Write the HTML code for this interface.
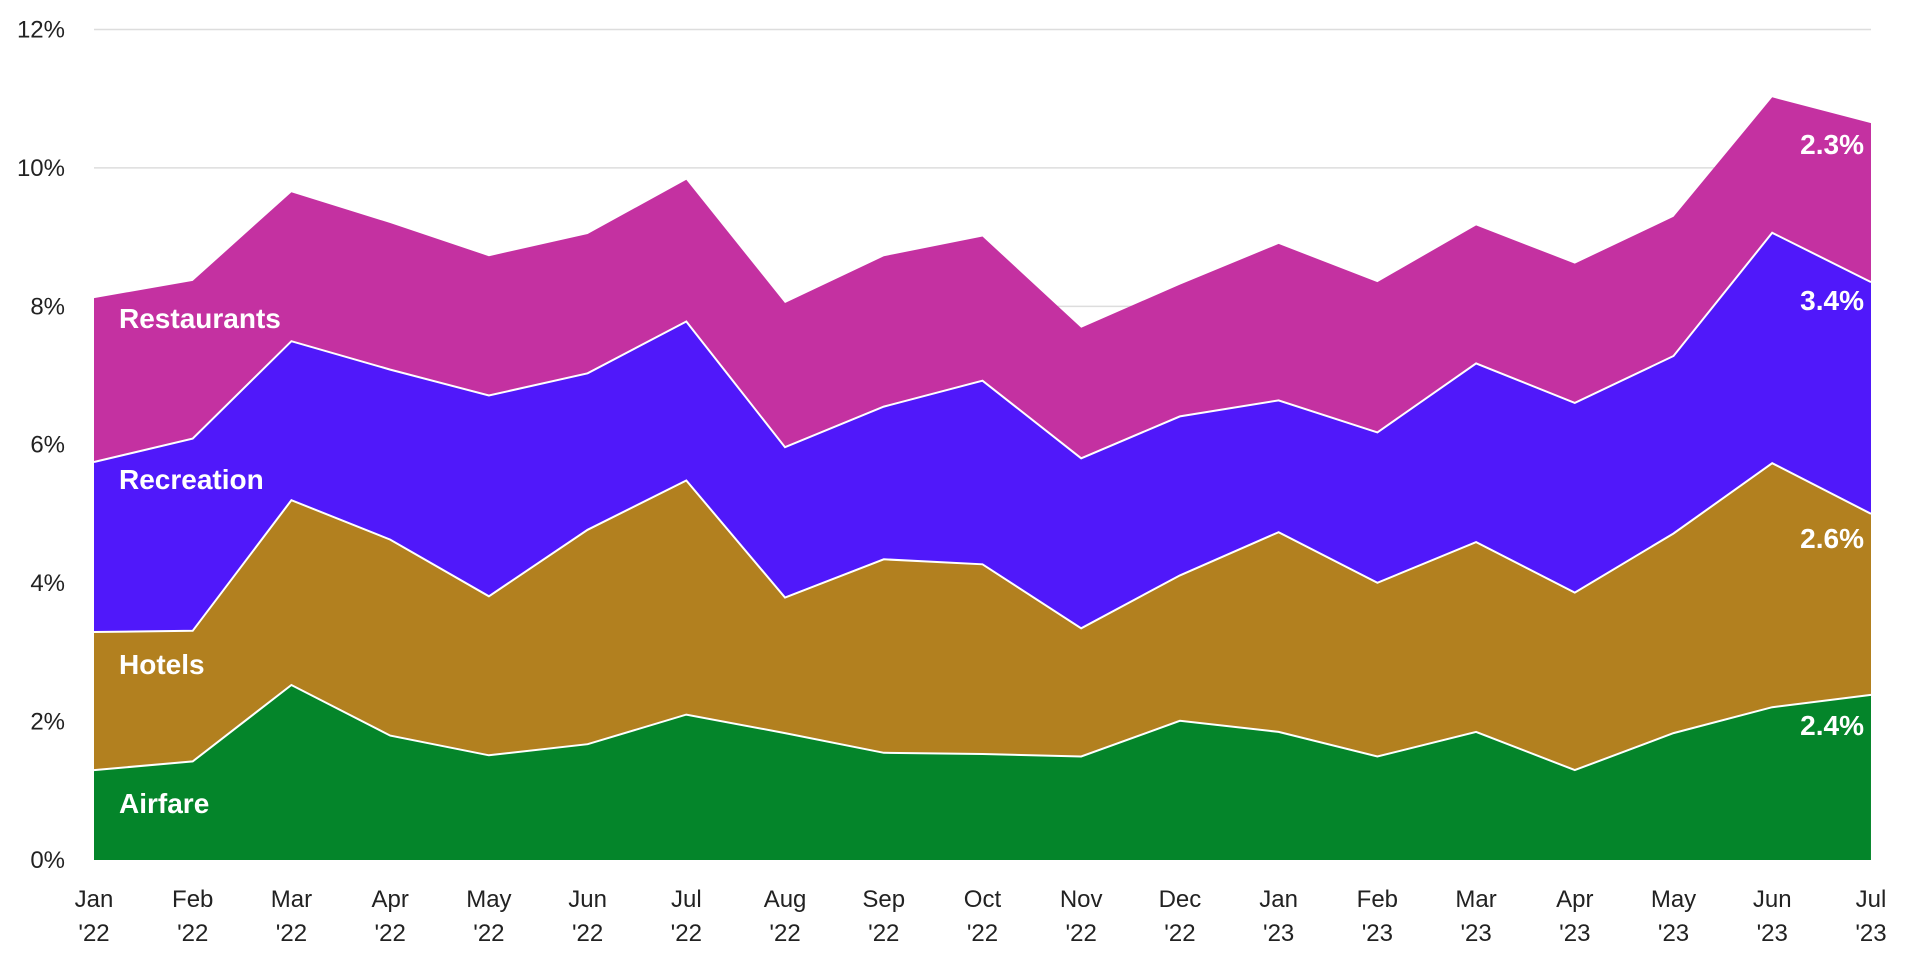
<!DOCTYPE html>
<html><head><meta charset="utf-8"><style>
body{margin:0;background:#fff}
svg text{font-family:"Liberation Sans",sans-serif}
</style></head><body>
<svg id="c" width="1920" height="960" xmlns="http://www.w3.org/2000/svg"></svg>
<script>
const s=document.getElementById('c');
const X=i=>94+i*98.72, Y=v=>29.5+(v-24)*1.2322, P=p=>860-p*69.21;
const air=[625,618,556,597,613,604,580,595,611,612,614,585,594,614,594,625,595,574,564];
const hot=[513,512,406,438,484,430,390,485,454,458,510,467,432,473,440,481,433,376,417];
const rec=[375,356,277,300,321,303,261,363,330,309,372,338,325,351,295,327,289,189,229];
const res=[242,228,156,181,208,190,146,246,208,192,266,231,198,229,183,214,176,79,100];
let h='';
for(let k=0;k<=12;k+=2){const y=P(k);if(k>0)h+=`<line x1="94" x2="1871" y1="${y}" y2="${y}" stroke="#dddddd" stroke-width="1.5"/>`;
h+=`<text x="65" y="${y+8}" text-anchor="end" font-size="24" fill="#222">${k}%</text>`;}
const pts=a=>a.map((v,i)=>`${X(i).toFixed(1)},${Y(v).toFixed(1)}`);
const layers=[[res,rec,'#c431a1'],[rec,hot,'#5018fa'],[hot,air,'#b2801f'],[air,null,'#04852a']];
for(const [t,b,c] of layers){
 let top=pts(t), bot=b?pts(b).reverse():[`${X(18)},860`,`${X(0)},860`];
 h+=`<polygon points="${top.join(' ')} ${bot.join(' ')}" fill="${c}"/>`;}
for(const a of [air,hot,rec])h+=`<polyline points="${pts(a).join(' ')}" fill="none" stroke="#fff" stroke-width="2"/>`;
const L=[['Restaurants',318],['Recreation',479],['Hotels',664],['Airfare',803]];
for(const [t,y] of L)h+=`<text x="119" y="${y+10}" font-size="28" font-weight="bold" fill="#fff">${t}</text>`;
const R=[['2.3%',144],['3.4%',300],['2.6%',538],['2.4%',725]];
for(const [t,y] of R)h+=`<text x="1864" y="${y+10}" text-anchor="end" font-size="28" font-weight="bold" fill="#fff">${t}</text>`;
const m=['Jan','Feb','Mar','Apr','May','Jun','Jul','Aug','Sep','Oct','Nov','Dec'];
for(let i=0;i<19;i++){const mm=m[i%12],yr=i<12?"'22":"'23";
h+=`<text x="${X(i)}" y="907" text-anchor="middle" font-size="24" fill="#222">${mm}</text><text x="${X(i)}" y="941" text-anchor="middle" font-size="24" fill="#222">${yr}</text>`;}
s.innerHTML=h;
</script>
</body></html>
